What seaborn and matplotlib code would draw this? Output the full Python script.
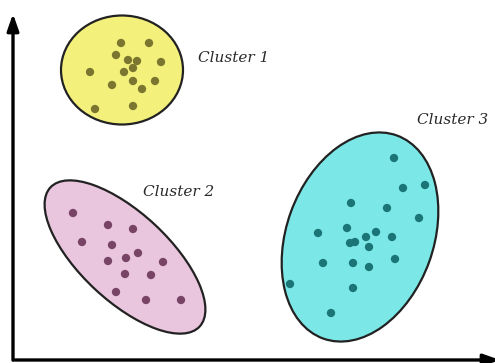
import pandas as pd
import matplotlib
matplotlib.use("Agg")
import matplotlib.pyplot as plt
from matplotlib.patches import Ellipse
import seaborn as sns

c1_x = [121, 149, 116, 128, 137, 161, 133, 90, 124, 133, 155, 112, 142, 95, 133]
c1_y = [320, 320, 308, 303, 302, 301, 295, 291, 291, 282, 282, 278, 274, 254, 257]

c2_x = [73, 108, 133, 82, 112, 138, 126, 108, 163, 125, 151, 116, 146, 181]
c2_y = [150, 138, 134, 121, 118, 110, 105, 102, 101, 89, 88, 71, 63, 63]

c3_x = [394, 403, 425, 351, 387, 419, 318, 347, 376, 366, 355, 350, 392, 369,
        323, 353, 369, 395, 290, 353, 331]
c3_y = [205, 175, 178, 160, 155, 145, 130, 135, 131, 126, 121, 120, 126, 116,
        100, 100, 96, 104, 79, 75, 50]

labels = ["Cluster 1", "Cluster 2", "Cluster 3"]

df = pd.concat([
    pd.DataFrame({"x": c1_x, "y": c1_y, "cluster": labels[0]}),
    pd.DataFrame({"x": c2_x, "y": c2_y, "cluster": labels[1]}),
    pd.DataFrame({"x": c3_x, "y": c3_y, "cluster": labels[2]}),
])

fills = ["#f4f07c", "#e9c6dd", "#7ce7e7"]
dots = ["#7a7630", "#784466", "#1b7577"]

sns.set_style("white")
fig = plt.figure(figsize=(4.95, 3.63), dpi=100)
ax = fig.add_axes([0, 0, 1, 1])
ax.set_xlim(0, 495)
ax.set_ylim(0, 363)
ax.axis("off")

# cluster outlines
shapes = [((122, 293), 122, 109, 0), ((125, 106), 204, 88, -43), ((360, 126), 216, 147, 70)]
for (center, w, h, ang), fc in zip(shapes, fills):
    ax.add_patch(Ellipse(center, w, h, angle=ang, facecolor=fc,
                         edgecolor="#222222", linewidth=1.6, zorder=1))

sns.scatterplot(data=df, x="x", y="y", hue="cluster", palette=dots, s=36,
                edgecolor="none", legend=False, ax=ax, zorder=3)

# cluster names
label_pos = [(198, 305), (143, 171), (417, 243)]
for (lx, ly), txt in zip(label_pos, labels):
    ax.text(lx, ly, txt, fontsize=11, fontstyle="italic", family="DejaVu Serif",
            color="#2a2a2a", va="center", ha="left")

# axis arrows
arrow = dict(arrowstyle="-|>,head_width=0.35,head_length=1.0", color="black", lw=2.4)
ax.annotate("", xy=(13, 352), xytext=(13, 0), arrowprops=arrow,
            annotation_clip=False)
ax.annotate("", xy=(503, 3), xytext=(12, 3), arrowprops=arrow,
            annotation_clip=False)

plt.savefig("out.png", dpi=100)
